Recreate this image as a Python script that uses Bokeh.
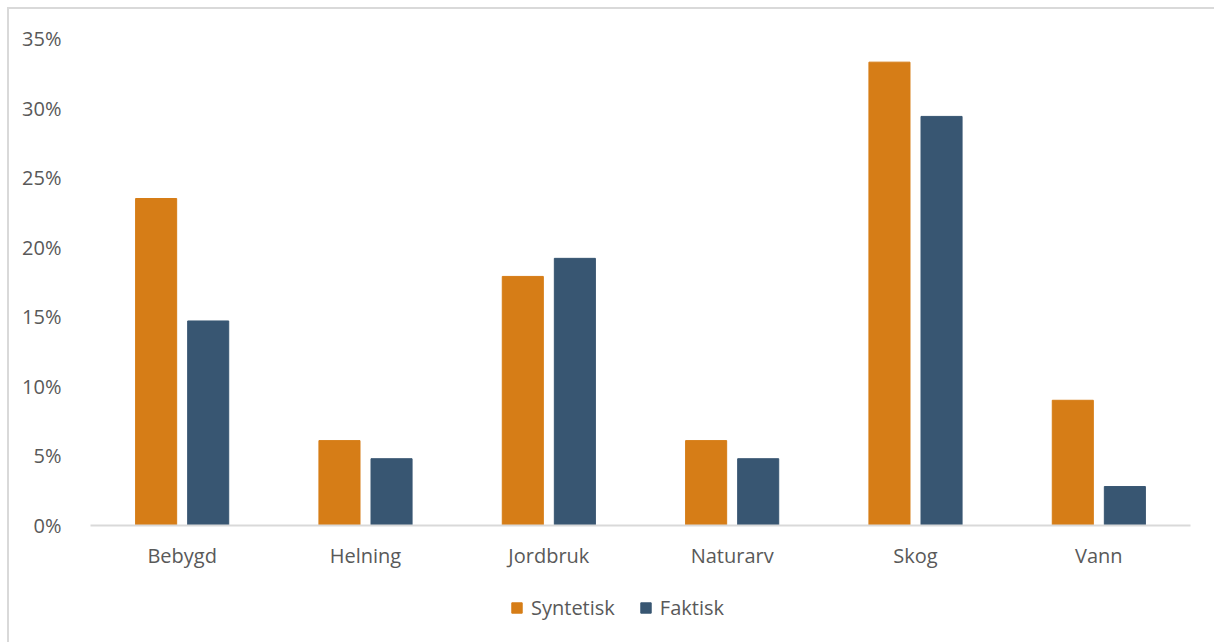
from bokeh.plotting import figure
from bokeh.layouts import column
from bokeh.models import FactorRange, Legend, LegendItem, NumeralTickFormatter, ColumnDataSource
from bokeh.transform import dodge
from bokeh.embed import file_html
from bokeh.resources import INLINE

categories = ["Bebygd", "Helning", "Jordbruk", "Naturarv", "Skog", "Vann"]
syntetisk = [0.235, 0.061, 0.179, 0.061, 0.333, 0.090]
faktisk = [0.147, 0.048, 0.192, 0.048, 0.294, 0.028]
series_names = ["Syntetisk", "Faktisk"]
y_ticks = [0, 0.05, 0.10, 0.15, 0.20, 0.25, 0.30, 0.35]

ORANGE = "#D67D17"
BLUE = "#385672"
TEXT = "#595959"
FONT = "Open Sans"

src = ColumnDataSource(dict(cat=categories, syn=syntetisk, fak=faktisk))

p = figure(x_range=FactorRange(*categories), y_range=(0, 0.35),
           width=1205, height=576, output_backend="svg", toolbar_location=None,
           min_border_left=81, min_border_right=24, min_border_top=29, min_border_bottom=60)

r1 = p.vbar(x=dodge("cat", -0.142, range=p.x_range), top="syn", width=0.224, source=src,
            fill_color=ORANGE, line_color=ORANGE)
r2 = p.vbar(x=dodge("cat", 0.142, range=p.x_range), top="fak", width=0.224, source=src,
            fill_color=BLUE, line_color=BLUE)

p.outline_line_color = None
p.xgrid.grid_line_color = None
p.ygrid.grid_line_color = None

p.yaxis.ticker = y_ticks
p.yaxis.formatter = NumeralTickFormatter(format="0%")
p.yaxis.axis_line_color = None
p.yaxis.major_tick_line_color = None
p.yaxis.minor_tick_line_color = None
p.yaxis.major_label_standoff = 23
p.yaxis.major_label_text_font = FONT
p.yaxis.major_label_text_font_size = "20px"
p.yaxis.major_label_text_color = TEXT

p.xaxis.axis_line_color = "#d9d9d9"
p.xaxis.axis_line_width = 2
p.xaxis.major_tick_line_color = None
p.xaxis.minor_tick_line_color = None
p.xaxis.major_label_standoff = 10
p.xaxis.major_label_text_font = FONT
p.xaxis.major_label_text_font_size = "20px"
p.xaxis.major_label_text_color = TEXT

# legend strip (its swatches come from renderers with no visible marks)
lf = figure(width=1205, height=57, output_backend="svg", toolbar_location=None,
            min_border=0, x_range=(0, 1), y_range=(0, 1))
lf.axis.visible = False
lf.grid.visible = False
lf.outline_line_color = None
l1 = lf.vbar(x=[-5], top=[-5], width=0.1, fill_color=ORANGE, line_color=ORANGE)
l2 = lf.vbar(x=[-5], top=[-5], width=0.1, fill_color=BLUE, line_color=BLUE)
legend = Legend(items=[LegendItem(label=series_names[0], renderers=[l1]),
                       LegendItem(label=series_names[1], renderers=[l2])],
                orientation="horizontal", location=(420, 21),
                glyph_width=13, glyph_height=13, label_standoff=8, spacing=24,
                padding=0, margin=0, border_line_color=None, background_fill_alpha=0,
                label_text_font=FONT, label_text_font_size="20px", label_text_color=TEXT)
lf.add_layout(legend, "center")

layout = column(p, lf, spacing=0, margin=(9, 0, 0, 9))
layout.styles = {"outline": "2px solid #d9d9d9"}

open("out.html", "w").write(file_html(layout, INLINE))
